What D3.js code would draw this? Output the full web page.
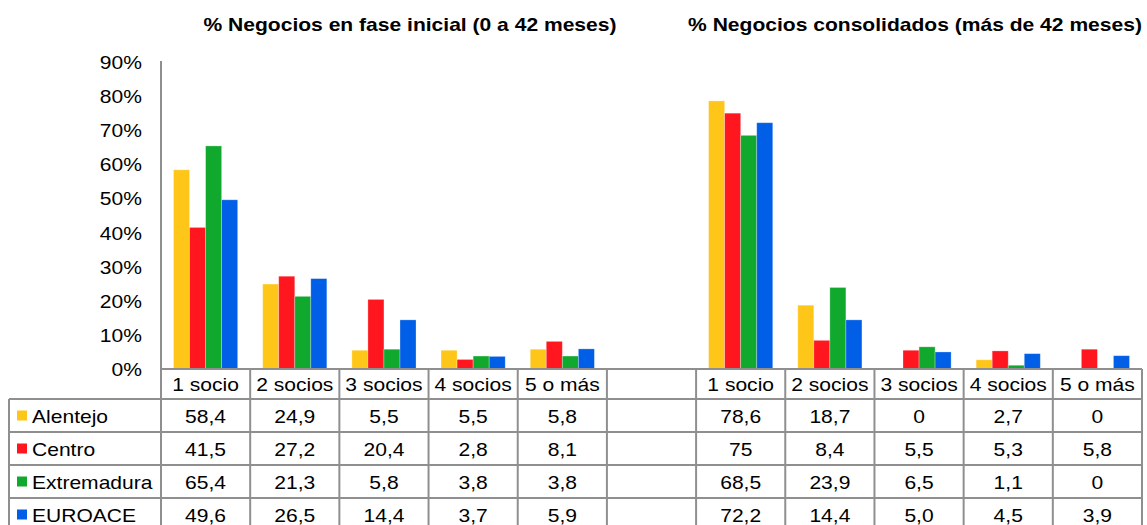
<!DOCTYPE html>
<html>
<head>
<meta charset="utf-8">
<script src="https://cdn.jsdelivr.net/npm/d3@7"></script>
<style>
  body { margin: 0; background: #fff; }
  svg { display: block; font-family: "Liberation Sans", Arial, sans-serif; }
  text { fill: #000; font-size: 18px; }
  .title { font-weight: bold; }
</style>
</head>
<body>
<svg width="1147" height="525"></svg>
<script>
var categories = ["1 socio", "2 socios", "3 socios", "4 socios", "5 o más"];
var series = ["Alentejo", "Centro", "Extremadura", "EUROACE"];
var colors = ["#ffc61a", "#ff161f", "#10a92e", "#005fe6"];
var titles = ["% Negocios en fase inicial (0 a 42 meses)", "% Negocios consolidados (más de 42 meses)"];
var yTicks = [0, 10, 20, 30, 40, 50, 60, 70, 80, 90];

// table labels, comma decimals as printed
var inicial = [
    ["58,4", "24,9", "5,5", "5,5", "5,8"],
    ["41,5", "27,2", "20,4", "2,8", "8,1"],
    ["65,4", "21,3", "5,8", "3,8", "3,8"],
    ["49,6", "26,5", "14,4", "3,7", "5,9"]
];
var consolidados = [
    ["78,6", "18,7", "0", "2,7", "0"],
    ["75", "8,4", "5,5", "5,3", "5,8"],
    ["68,5", "23,9", "6,5", "1,1", "0"],
    ["72,2", "14,4", "5,0", "4,5", "3,9"]
];

var SX = 1.17; // text in the original is stretched horizontally
var num = function(s) { return +s.replace(",", "."); };

var svg = d3.select("svg");

// columns: 5 + gap + 5
var cols = categories.map(function(c, i) { return {key: "i" + i, label: c, group: 0, idx: i}; })
    .concat([{key: "gap", label: "", group: -1}])
    .concat(categories.map(function(c, i) { return {key: "c" + i, label: c, group: 1, idx: i}; }));

var x = d3.scaleBand().domain(cols.map(function(d) { return d.key; })).range([161, 1142]).padding(0);
var xs = d3.scaleBand().domain(series).range([0, x.bandwidth()]).paddingInner(0).paddingOuter(0.78);
var y = d3.scaleLinear().domain([0, 90]).range([369, 62]);

function txt(g, px, py, s, anchor, cls) {
    return g.append("text")
        .attr("class", cls || null)
        .attr("transform", "translate(" + px + "," + py + ") scale(" + SX + ",1)")
        .attr("text-anchor", anchor)
        .text(s);
}

// titles
txt(svg, 410, 31, titles[0], "middle", "title");
txt(svg, 915, 31, titles[1], "middle", "title");

// y tick labels
yTicks.forEach(function(t) {
    txt(svg, 142, y(t) + 7, t + "%", "end");
});

// bars
var barData = [];
cols.forEach(function(c) {
    if (c.group < 0) return;
    var tbl = c.group === 0 ? inicial : consolidados;
    series.forEach(function(s, si) {
        barData.push({col: c.key, s: s, si: si, v: num(tbl[si][c.idx])});
    });
});

svg.append("g").selectAll("rect")
    .data(barData)
    .enter().append("rect")
    .attr("x", function(d) { return x(d.col) + xs(d.s); })
    .attr("y", function(d) { return y(d.v); })
    .attr("width", xs.bandwidth())
    .attr("height", function(d) { return y(0) - y(d.v); })
    .attr("fill", function(d) { return colors[d.si]; })
    .attr("stroke", "#fff")
    .attr("stroke-opacity", 0.35)
    .attr("stroke-width", 0.8);

// data table
var gridColor = "#8f8f8f";
var rowTop = 399, rowH = 33, headTop = 369;
var tableLeft = 9, tableRight = 1142;
var grid = svg.append("g").attr("stroke", gridColor).attr("stroke-width", 2);

// vertical axis line
grid.append("line").attr("x1", 161).attr("x2", 161).attr("y1", 61).attr("y2", 525);

// horizontal lines
grid.append("line").attr("x1", 161).attr("x2", tableRight).attr("y1", headTop).attr("y2", headTop);
d3.range(series.length + 1).forEach(function(i) {
    var yy = rowTop + i * rowH;
    grid.append("line").attr("x1", tableLeft).attr("x2", tableRight).attr("y1", yy).attr("y2", yy);
});
// vertical lines
grid.append("line").attr("x1", tableLeft).attr("x2", tableLeft).attr("y1", rowTop).attr("y2", 525);
cols.forEach(function(c) {
    var xx = x(c.key) + x.bandwidth();
    grid.append("line").attr("x1", xx).attr("x2", xx).attr("y1", headTop).attr("y2", 525);
});

// header labels
cols.forEach(function(c) {
    txt(svg, x(c.key) + x.bandwidth() / 2, headTop + 15 + 7, c.label, "middle");
});

// row labels with legend keys
series.forEach(function(s, si) {
    var cy = rowTop + si * rowH + rowH / 2;
    svg.append("rect")
        .attr("x", 17).attr("y", cy - 5)
        .attr("width", 10).attr("height", 10)
        .attr("fill", colors[si]);
    txt(svg, 32, cy + 7, s, "start");
    cols.forEach(function(c) {
        if (c.group < 0) return;
        var tbl = c.group === 0 ? inicial : consolidados;
        txt(svg, x(c.key) + x.bandwidth() / 2, cy + 7, tbl[si][c.idx], "middle");
    });
});
</script>
</body>
</html>
